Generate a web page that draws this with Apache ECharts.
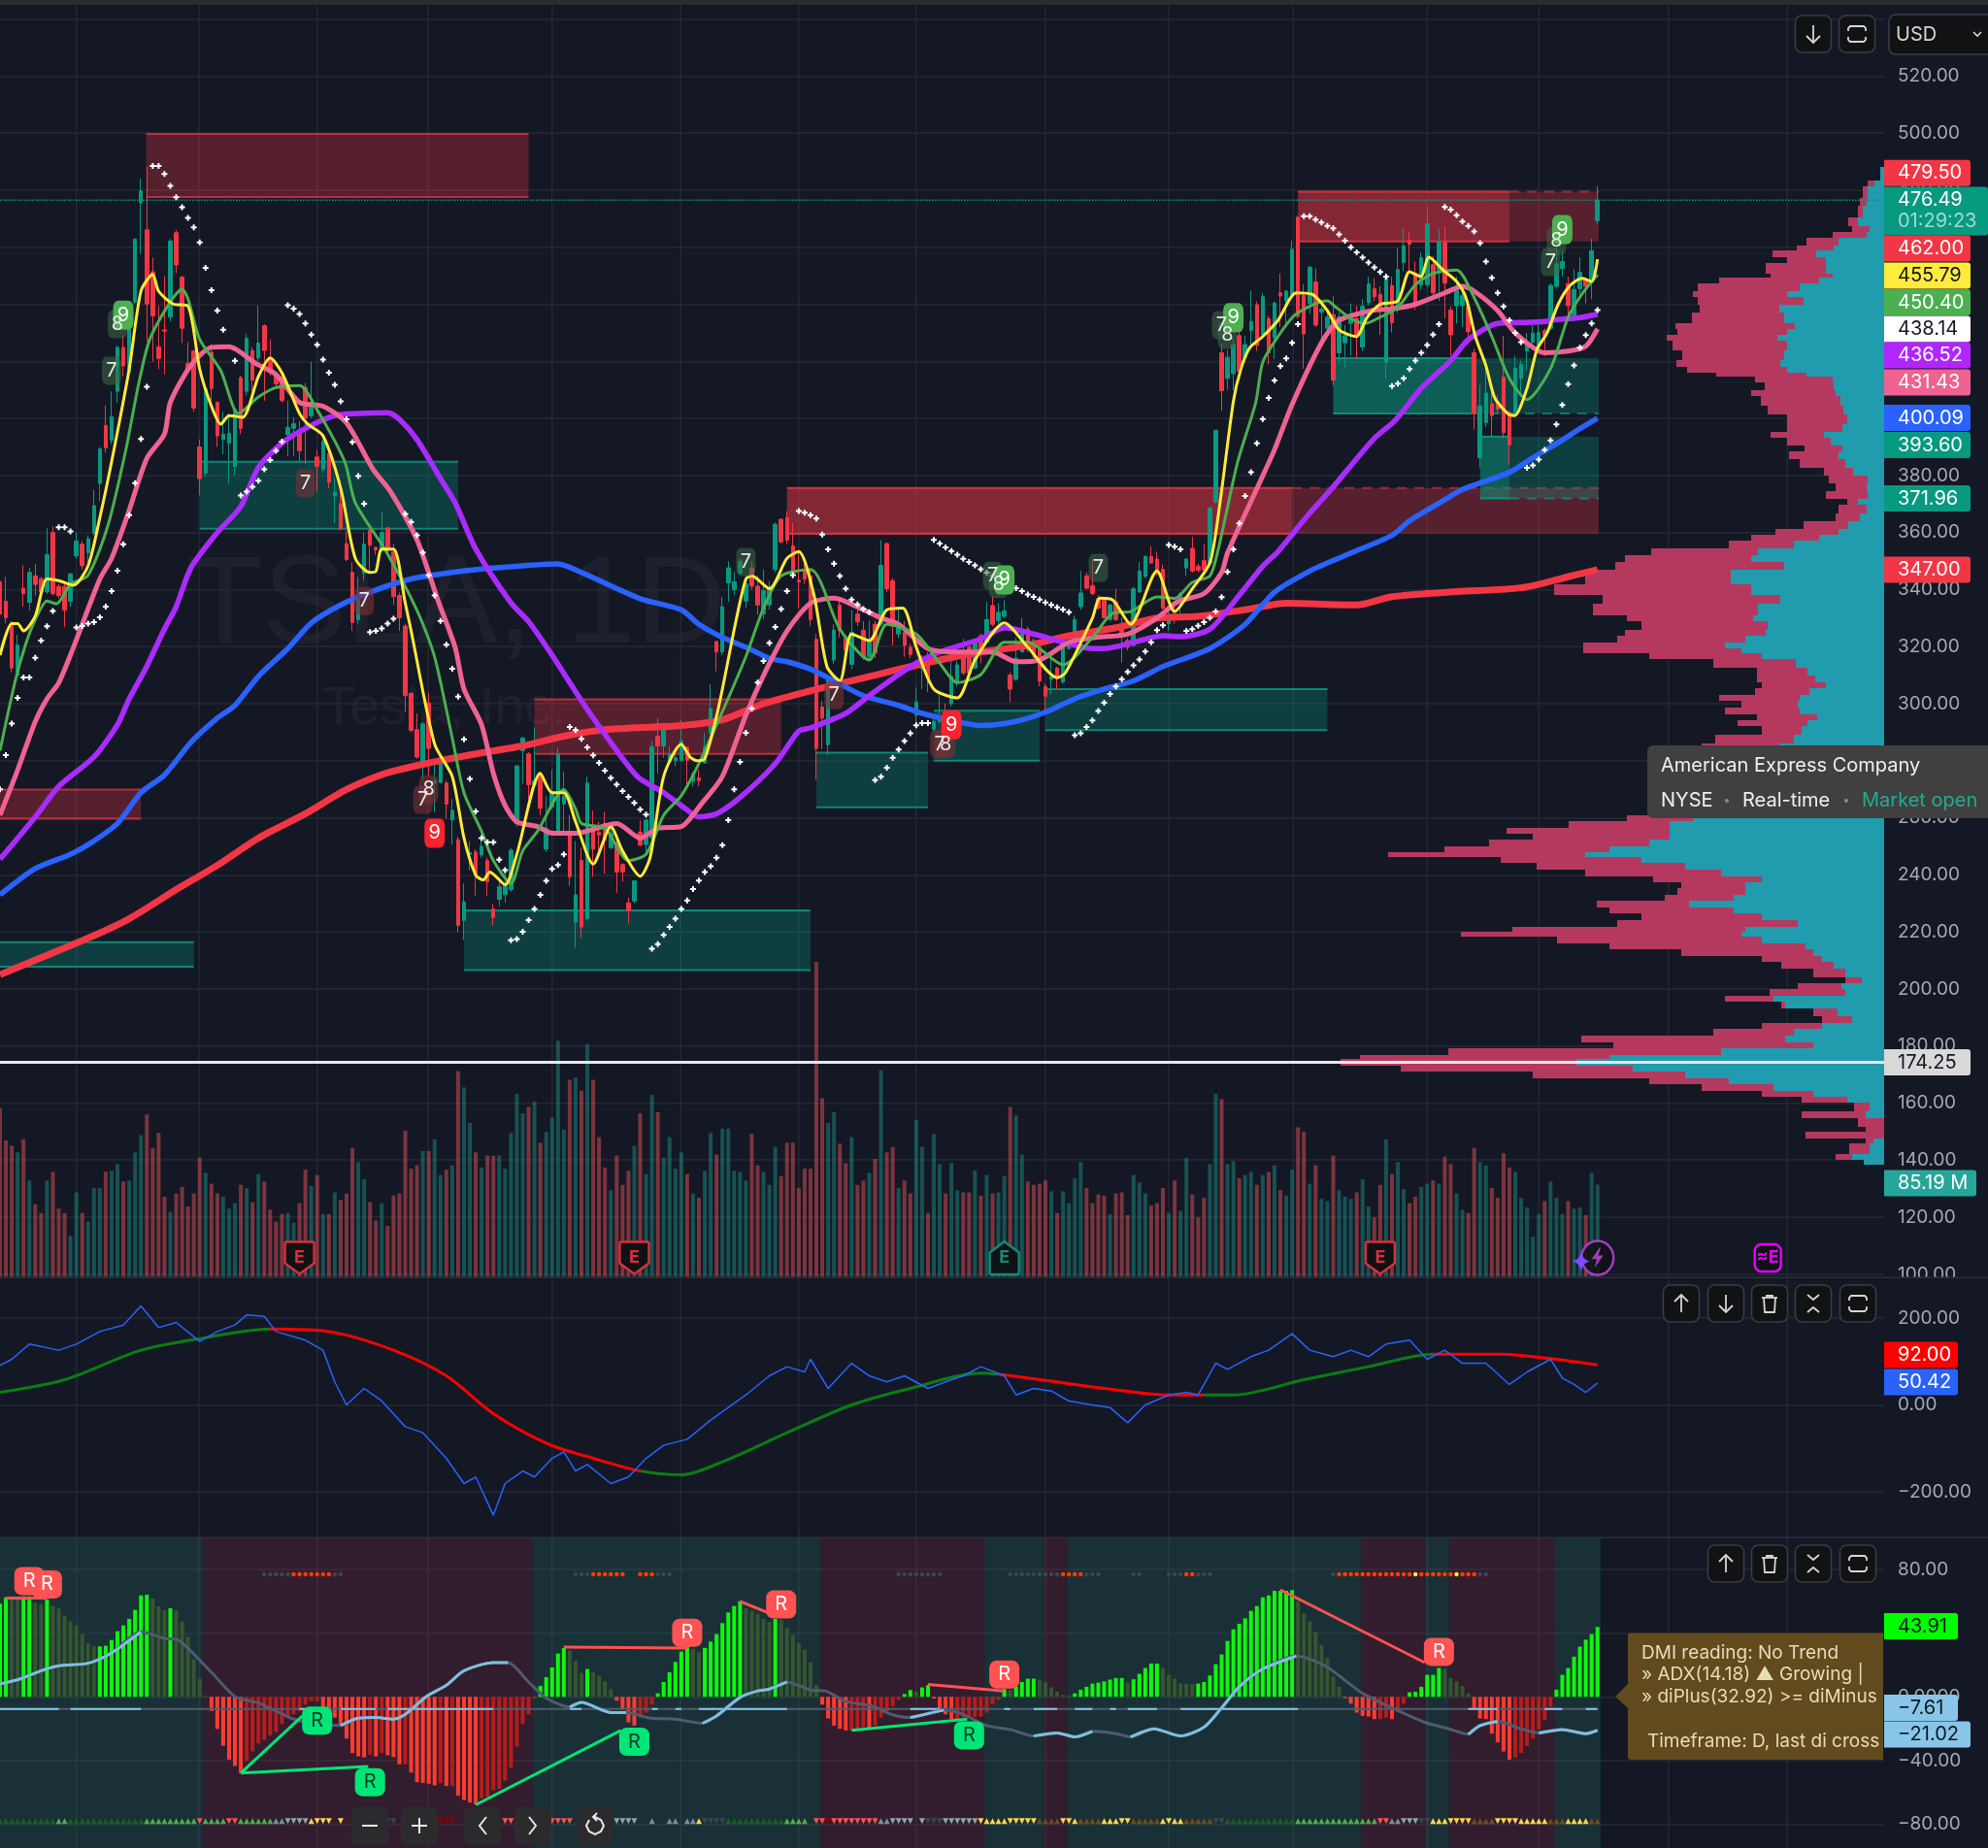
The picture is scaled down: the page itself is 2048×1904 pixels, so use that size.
<!DOCTYPE html>
<html>
<head>
<meta charset="utf-8">
<title>TSLA, 1D</title>
<style>
  html, body { margin: 0; padding: 0; background: #141824; }
  #chart { width: 2048px; height: 1904px; }
</style>
<script src="https://cdn.jsdelivr.net/npm/echarts@6/dist/echarts.min.js"></script>
</head>
<body>
<div id="chart"></div>
<script>
// candles, one row per day: open, close, low, high
var candles = [
[342.8,331.4,329,344],[335.9,330.1,328.1,344.4],[328.1,312.5,311,329],[309.9,320.6,309.3,324.2],[340.5,338.5,334,348.6],[335.5,346,332.7,347.7],[344.8,341.8,337.9,349],[343.8,339.2,338,344.5],[339.2,352.2,338.5,361.6],[360,338.5,338,362],
[341.1,337.9,337,342],[341.1,332.7,326.8,343],[335.9,345.4,334,346],[351.8,357,350.9,360],[355.9,348.3,347,357],[352.9,357.8,349,359],[359.8,369.4,359,375],[377.2,389.3,371,390],[397.5,389.7,388,404.5],[392.3,400.6,391,409.5],
[409.5,424.9,405.6,425.5],[424.9,418.4,414.7,429],[416,436.2,415,437],[440.8,462.9,440,463],[475.6,479.8,457.7,484],[466.1,440.1,427,488.3],[451.4,435.9,419.9,456.4],[425.1,421,417.3,439.5],[431,430.6,415.4,449.9],[435.5,462.2,434,462.9],
[465.1,453.8,450.9,466],[449.5,431.6,426.4,450],[419.3,416.9,416,426.8],[423.6,403.6,402.3,424],[390,378.9,373,392.6],[380.9,410.4,379.6,411],[423.2,410.5,406.2,426.2],[405.6,393.9,390,406],[392.6,394.5,387.4,402.3],[391.3,394.8,377.2,401.7],
[383.2,403.2,380.2,404],[414.3,396.5,394.5,415],[409.5,428,408,429.7],[423.8,413.4,409.5,425],[421.2,426.4,420,439.5],[432.5,423.8,406.2,433],[421.2,416,415,427.7],[415.4,412.1,411,416],[414.5,406.2,405.6,415],[394.3,396.9,386.7,406.2],
[396.5,398.2,386.7,400.4],[395.2,388.7,384.8,399.1],[410.8,400.1,384.1,412.4],[401,405.6,400,419.9],[386.5,383.2,374.3,389],[382.2,391.9,380.9,392.6],[387.7,377.6,375.6,388.7],[372.8,374.1,363.3,379],[370.1,361.3,360.7,378.2],[356.1,350.5,350,360.7],
[346,328.5,325.5,349.6],[329.4,336.6,328,344.4],[345.7,355.9,343.1,360],[360.7,355.5,345.7,362],[354.8,353.9,352.2,355],[353.8,360,353,367.2],[361.6,353.8,353,362],[353.2,337.5,334.6,356.1],[337.9,330.1,325.5,339],[327.2,302.8,297,328],
[303.6,290.6,290,304],[290.9,281.3,280.7,296.6],[279,292.9,273.3,293.7],[300.3,284.3,274.5,303.9],[272,273,262,280.7],[272.4,279,272,282.4],[272.2,264.8,259.7,273],[259.2,262.6,250.6,266.5],[252.3,222.3,220,253.5],[224,230.5,217.2,237],
[247.2,247.8,241.6,251.8],[248,239.9,232.7,249],[247,250,246,253.5],[245,237.6,232.7,246],[228,225.1,222.3,229.7],[231.4,235.9,229,239],[233,236.5,230.2,242],[234.8,248.6,234,249.5],[258,278.2,256.9,278.4],[283.5,288,272,288.3],
[282.4,271.6,266.5,283],[271.6,273,271,291.7],[275.4,263.3,260.9,276],[249,256.3,248,267.7],[263.7,268.8,263,276.9],[254.6,282.4,254,284.7],[264.8,267.7,254,276.2],[255.2,239.3,236.1,260.9],[223.4,233,214.4,251.8],[245,221.7,217.8,249.5],
[224.6,272.2,224,274.5],[256.9,249,239.3,262.6],[255,254,248.4,258.6],[258,252,240.4,262],[249.5,254.6,249,258],[250.6,241,233.6,253.5],[243.6,241,237.6,244],[230.2,227.4,222.9,232],[230.8,237.9,230,238],[255,250.4,250,259.2],
[250.6,259.2,248,259.5],[252.9,284.9,249.5,287],[288.6,285.2,275.6,294.9],[285.2,291.7,281,293.2],[279.6,282.4,279,285],[280,281,278,284],[280,287,280,294.3],[284.7,280.2,271.6,285],[272.8,275.4,271,276],[274,273,271,276.8],
[279.2,284.7,279,289.8],[289.8,298.3,289,306.8],[321.8,318.1,311.3,322],[318.1,334,317,337.4],[342.3,347.6,335.7,349.9],[340,342.7,338,346],[345.7,349.9,345,351],[336,342,333.5,344.8],[347.6,341.2,340,350],[341.2,334.6,331.2,344.8],
[331.4,339.7,329.5,347],[334.6,340.8,332.9,343],[347,362.9,346,363.5],[364.6,356.7,356.1,365],[365.2,357.3,356,367.5],[355.3,345.7,343.7,363.5],[343.3,342.7,333.5,352.7],[346.5,343.7,342,349],[344.8,329.5,327.2,347],[322.5,284.3,273.3,324.4],
[298.9,294.9,284.1,301],[285.6,309.1,281.9,310],[315.3,325.8,314,327.8],[334.6,325.5,323.2,336],[322.9,318.7,317,324],[313.8,325,312,332.9],[331.4,328.7,327.2,332.9],[325.7,316.2,315.3,328.9],[316.4,322.1,315,329.1],[327.8,317.8,316,329],
[327.8,348.5,327,357.3],[356.1,340.3,339,356.5],[343.1,327.2,320.4,344],[324.4,326.6,323,332.9],[325,320.4,316.4,328.9],[319.8,317.2,316,321],[296,300.6,292.6,305.7],[312.2,315.9,305.1,317],[315,309,304,318],[291,293.8,290,296],
[293.8,295.5,293,304],[296,293.8,292,300],[300,309.6,299,315],[307.4,313.6,306,315],[318.1,310.8,310,322.7],[319.8,310.8,310,322.1],[312.5,321.5,312,322.7],[323.8,318.7,314.2,324.5],[321.5,329.5,321,335.7],[334.4,327.8,327,337.6],
[329.1,332,328,335.2],[330.6,332.5,330,336.3],[310,305.1,300.6,311],[308.5,315.9,308,323.2],[318.1,326.1,318,330.1],[326.1,321.5,318.1,327],[322.1,317,316,323],[319.8,307.9,306.2,320.5],[306,302.6,297.7,307],[308.5,309.6,303.4,316.4],
[312.5,309.6,305.1,313],[307.6,319.8,307,321],[319.3,322.1,319,323],[321.2,329.5,321,331],[334,338.8,332.9,346.5],[344.8,340.5,340,346],[341.4,338.6,338,350.5],[336.9,333.5,333,338],[336.3,330.1,330,337],[329.5,334.6,329,335],
[335.7,329.5,329,340.3],[326.6,324.4,314.4,330.1],[322.1,319.8,318.7,323],[320.4,340.3,320,341],[339.1,346.5,339,349.7],[344.6,351.6,344,352],[351.6,349.3,349,355.2],[350.7,345.7,345,353.3],[347.1,333.5,333,348.8],[328,329.1,325.5,333.5],
[331.4,331,328,336],[336,338.6,331.8,339],[347.6,350.7,344.8,351],[354.4,346.5,346,358.4],[348.2,346.8,346,349],[350.2,346.8,346,356.1],[349.3,368.6,349,369],[370.7,395.8,370,396],[423,409.7,402.6,425.9],[414,421.4,410,424],
[415.7,425.9,409.9,428],[429,416.5,414,432],[421.4,425.9,420,429],[430.8,434,425,444.8],[439.8,425.6,423.6,441],[429.3,442.7,428,444],[435,423,419,436],[428.2,440.4,420.8,441],[444,442.9,432,450.8],[441.2,444.6,432.7,445],
[443.5,459.3,443,462.2],[470.5,435.8,435,471],[443.1,429.6,417.4,447],[440.3,453,436.7,453.4],[447.8,432.7,432,452.5],[437.2,438.3,425.3,441.8],[431.6,435.5,429,437],[436.4,413.4,411.5,442.9],[423,435.5,419.7,437.2],[426.5,429,418,432.7],
[433.3,435,422,440.3],[435,428.7,421,439.5],[425,439.3,423.6,441.8],[440.6,447.2,439.5,449.7],[445.5,442.6,441,449.1],[443.5,438.4,429.3,446.3],[419.7,449.1,414,450.3],[446.6,433.5,430.1,449.7],[438.9,452.2,437,459.9],[454.6,460.5,451.6,466.7],
[462.5,461,451.4,465.4],[450.8,439.5,438,455],[446.7,456.3,445,458.2],[446.9,468.2,446,474.1],[453.9,444,443,457],[452,461.8,441.2,466.4],[461.6,447.4,435,467.3],[438,429.3,421.9,439.3],[439.5,445,433.3,449.7],[439.5,443,432,445],
[438.9,430.4,425.9,440],[423,401.7,396.1,424.4],[386.2,404.3,382.8,411.7],[398.5,408.9,397,420.8],[405.1,401,393.8,411.7],[406,403.2,402,408],[414.5,395,393,429],[402.1,390.7,383.6,402.7],[402.1,417.6,401,421.9],[414,419,407.8,420.2],
[423.6,426.7,416.8,429.9],[426.7,429.9,425,432.7],[425.1,430.1,424,433.3],[430.7,429,421.9,431.5],[431.6,446.6,431,447.4],[446.3,454.2,445.4,460.5],[452.5,455,449.7,458.8],[447.2,439.5,435.5,449.7],[436.1,445.2,434,452.3],[445.5,451.2,442.3,456.5],
[448.6,446.3,440.3,449.2],[447.8,458.8,441.8,463],[469.3,476.4,467.9,481.5]
];

// volume in millions, per day
var volumes = [
156,126,121,115,127,89,67,59,89,97,
63,59,38,78,59,51,82,82,97,98,
104,88,89,115,131,150,119,133,74,60,
77,83,65,77,110,96,86,77,74,63,
68,85,82,69,95,88,62,51,58,59,
50,68,99,84,94,58,58,78,71,77,
119,106,90,69,52,68,47,75,77,135,
100,103,116,116,127,94,99,103,190,175,
142,115,101,112,112,112,100,133,169,151,
157,162,124,134,147,218,136,182,184,172,
215,182,129,101,80,112,85,98,121,151,
95,168,152,110,129,100,115,95,77,73,
98,133,113,137,137,98,97,89,132,103,
97,85,120,93,124,124,82,100,100,291,
165,142,152,123,105,129,85,89,96,109,
191,115,120,82,89,77,145,120,59,132,
104,77,105,80,78,78,98,75,94,77,
78,93,157,149,113,88,85,86,89,79,
59,79,68,91,106,82,68,76,75,58,
77,78,57,94,87,77,66,68,82,59,
89,61,110,76,55,73,104,169,164,104,
107,91,94,97,85,94,97,103,80,75,
99,138,134,86,103,72,70,112,80,74,
72,78,90,65,55,85,127,95,106,81,
68,74,83,86,89,86,111,104,77,62,
59,119,106,103,82,73,114,101,97,73,
64,37,58,70,88,73,58,70,63,64,
57,96,85.19
];

// parabolic SAR per day
var sar = [
270,282,293,302,309.2,309.2,316.1,322.1,327.1,332.5,
361.8,361.8,360.4,326.7,327.2,328.1,328.6,330.3,334,339.5,
346.6,355.9,366.1,377.3,392.8,411.1,488.5,488.5,485.7,481.5,
477.5,474,470.3,467,461.7,452.8,444.9,437.8,431.1,null,
420.2,373,374.3,376,378.2,382.2,385.4,388.6,391.9,439.7,
438.5,436.6,433.3,429.4,425.8,420.6,416,411.8,406,399.7,
391.7,379.8,370.1,325.1,325.5,326.4,328.1,329.8,null,366.5,
363.7,359,353,345,337.9,329,320.7,312.2,302.5,287.5,
273.6,262.2,252.9,251.4,251.4,245.3,241.6,217.1,217.5,220,
224.1,228,233,237.9,242.1,243.4,247.2,291.8,290.7,287.7,
284.7,281.9,279.2,276.5,274,271.7,269.4,267.3,265.2,262.9,
261.1,214.1,215.7,218.9,221.7,224.6,228,231,235,238,
241,243,246,250.4,259.2,270,279.6,289.8,298.3,307.4,
315,321.3,326.9,333.2,339.5,345.1,367.5,366.9,366.1,364.9,
359.3,354.1,349.1,344.7,340.3,336.5,334.8,333.2,332.1,273.2,
274.4,277.5,281,283.9,286.9,289.6,292.4,293.2,293.2,357.4,
356.1,354.8,353.5,352.2,350.8,349.7,348.5,347.1,345.9,344.8,
343.5,342.5,341.5,340.5,339.5,338.3,337.4,336.5,335.5,334.6,
333.8,333,332.1,288.9,289.6,291.8,294.1,297.4,300.3,303.4,
306,308.6,311.1,313.4,315.5,318.3,321.5,325.8,327.5,355.6,
355,354.1,325.5,326.1,327.3,328.6,330.1,332.3,337.3,346.2,
354.1,363.2,372.8,381.1,391.3,399.8,407.2,413.3,418.3,421,
426.5,433,470.9,470.9,469.7,468.7,467.5,466.6,464.5,462.3,
460,458.2,456.4,454.6,452.9,451.3,449.7,411.3,412.2,414.1,
417.3,420.3,423,425.7,429.4,433,474.1,473.2,471.2,469,
467.5,465.5,461.4,455,449.3,444,439.2,434.4,430,426.7,
382.7,383.5,385.6,389,392.3,397.9,404.7,412,418.6,424.8,
429.2,433.3,438
];

// moving averages as [day, price]
var sma200 = [[0,205],[15,217.8],[22,224.6],[30,234.8],[37,243.3],[44,252.9],[52,261.4],[59,269.9],[66,275.8],[74,279.6],[81,282.4],[89,285.2],[96,288.6],[103,290.9],[116,292.3],[123,294.3],[130,300],[138,304.5],[145,308],[153,312],[160,315.3],[167,318.1],[175,320.4],[182,323.8],[190,326.6],[197,330],[204,330.6],[212,332.9],[219,335.2],[231,334.6],[237,337.5],[248,339.3],[259,340.6],[268,345],[272,347]];
var sma100 = [[0,233],[6,242.2],[12,247.2],[15.5,251.2],[20,258],[24,268.8],[28,275],[32.5,286.4],[37,294.9],[40,299.4],[44,309.6],[49,319.3],[53,328.3],[58,334.6],[63,339.1],[70,343.7],[77,346],[85,347.7],[95,349],[99,346],[109,336.8],[116,332.9],[119,327.8],[123,323.2],[127,319.8],[131,315.9],[134,314.7],[138,312.1],[142,308],[147,302.8],[153,299.4],[157,296.6],[162,294.1],[167,292.3],[173,293.8],[178,297],[183,301.7],[188,305.1],[193,308],[198,313],[206,319.3],[212,327.8],[217,339.1],[223,346.5],[226,349.3],[230,352.8],[237,359],[240,364.1],[246,371.5],[249,375.1],[257,381.1],[261,386.2],[266,392.4],[269,396.4],[272,400.09]];
var sma50 = [[0,245.5],[6,260.3],[10,271],[16,281.3],[20,292.6],[22,301.7],[25,313.1],[28,326.2],[30,334],[32.5,347.6],[37,360],[41,369.1],[44,382.8],[48,391.3],[52,396.5],[57,401],[61,401.7],[66,402],[68,399.7],[71,392.6],[75,378.9],[77.5,370.4],[81,354.2],[87,335.3],[90,328.8],[94,317],[99,301],[103,289.2],[108.5,274.5],[113,268.8],[116,264.3],[119,260.3],[122,261.4],[126,267.1],[132,279],[136,290.4],[138,291.5],[144,296.6],[148,302.8],[153,310.2],[156,314.2],[160,318.1],[167,322.7],[171,326.6],[176,324.4],[182,321],[186,319.3],[188,319.3],[193,321.5],[198,323.8],[201,323.5],[206,326.1],[211,338],[215,348.2],[217.6,353.3],[222.6,365.8],[226.5,374.8],[230,383.4],[234,393],[237.5,399.2],[242,410.6],[247,420.2],[250,427.6],[255,433.3],[259,433.6],[263,434],[265,434.6],[269,435.3],[272,436.52]];
var ema20 = [[0,260.9],[3,276.7],[6,293.7],[8,301.7],[10,307.3],[12.5,319.7],[17,343.7],[19,350.9],[22,367.8],[25,386],[28,394.5],[29,405.6],[32.5,418.6],[36,424.9],[39,425.1],[43.5,419.3],[47,415.4],[51,405.6],[55,404.3],[59,398.4],[63.5,382.2],[66.5,374.3],[71,357.4],[74.5,336.6],[77.5,319.7],[79,305.1],[82,292.6],[84,275.6],[86,264.3],[88,258.6],[91.5,256.9],[94,254.6],[98,254.6],[105,258],[109,252.9],[112,256.3],[116,256.9],[119.4,264.8],[123,274.5],[127,296],[130.5,312],[134,325.5],[138,335.2],[142,337],[147,332.9],[150,330],[153,327.8],[158,319.3],[163,318.1],[169,318.1],[173,314.7],[177,315.3],[182,321.5],[186.5,323.2],[192,324.4],[197,330],[200.5,335.7],[205,338.6],[208,346],[209,352.8],[214,375.4],[217,389],[220,404.9],[225,426.5],[228,434.4],[233.6,437.8],[237,438.4],[241,440],[246,444],[249,446.3],[251,444.6],[255,437.8],[258,429.9],[263,423],[267,423.6],[270,425.3],[272,431.43]];
var ema10 = [[0,283.5],[2.6,308],[4.4,321],[6,329.4],[8,336],[9.6,335],[12,341.8],[15,345],[18.4,362.6],[21.4,388.7],[23.6,412],[25.5,427.7],[29,440.8],[31,445.3],[32,442],[34,427.7],[37.6,416.7],[40.6,401.7],[44,407.5],[47,410.8],[51,411.5],[54,403],[58.7,384.8],[60.5,370.4],[65.7,353.5],[71,332.7],[74,316.4],[77,288],[79,268.8],[82,255.2],[84,245],[87,237],[89,248.4],[91.5,255.2],[96,269.9],[98,263.1],[99,258],[103,256.3],[107,245],[110,247.2],[113,260.9],[116,267.7],[119,279],[123,297.2],[127,316.5],[130,333.5],[133,344.8],[138,347],[143,326.1],[148,315.3],[151,327.8],[156,324.4],[160,314.2],[163,307.4],[167,310.2],[171,321.5],[175,321.5],[181,313.6],[186,323.2],[189.5,331.8],[192.5,332.3],[197,337.4],[200,336.9],[203,342.5],[206,344.8],[207.4,353.9],[210.7,384.5],[213.8,405.5],[215,419.7],[217.6,428.7],[220.4,436.1],[223.7,440],[226,441.2],[227.5,438.9],[230,435],[232.5,433.3],[235,435.5],[238,438.9],[241,446.9],[244,450.8],[248,452],[251,442.3],[254,428.7],[257,414],[260,406.6],[264,417.4],[267,435.5],[269.5,444],[272,450.4]];
var ema5 = [[0,317],[2,328.1],[3,328.1],[4,325.5],[6,330.7],[8,343.7],[10,343.1],[12.5,341.5],[15,348.3],[17,365.2],[19,384.8],[22,417.3],[24,444.6],[26,450.5],[27,444.6],[29.5,440.1],[32,439.4],[34,417.3],[36,404.3],[37.6,398],[39,401],[41.3,400.4],[44,414.7],[46,421.2],[48,416],[51,401.7],[52.4,398],[55,393.9],[58,375.6],[60.5,350.9],[63,346],[64,346.4],[65,354.2],[67,354.2],[69,335.3],[70,325.5],[74,285.8],[77,274.5],[79,252.9],[81,239.9],[82.3,238.2],[83.4,241],[86,236.5],[88,247.2],[92,275.6],[94,268.8],[96,268.8],[98,258.6],[101,243.8],[104,256.9],[106,248.4],[109,239.5],[110.7,246.1],[113,274.5],[116,285.8],[117.5,281.3],[118.7,280],[120,280.7],[122.3,298.3],[125.3,328.9],[127,343.7],[128,344.8],[131,340.3],[134,351],[136,353.3],[138.6,338],[140.8,313],[143,308],[145,324.4],[148,322.1],[151,332.9],[153.7,333.5],[156,319.8],[159,305.1],[163,302],[166,315.3],[171,328.3],[175,319.8],[180,309.1],[181.4,310.8],[186,330],[187.3,337],[189.5,336.3],[192.5,327.8],[197,346.5],[200,332.3],[203,340.3],[206,349.3],[207.6,368.6],[210,406],[211.3,417.4],[212.8,424.8],[215,428.7],[217.6,434.4],[220.7,444],[223.4,443.5],[226,437.8],[228,431],[230.9,428.7],[232.8,435.5],[235,440],[238,441.2],[240,451.4],[241.9,449.7],[243.3,456.5],[245.7,452],[248,448],[249.6,442.3],[251.2,428.7],[253,418.5],[254.5,407.2],[256.8,401.5],[257.9,401],[260,410.6],[261.7,424.2],[263.4,429.9],[265.3,440],[267.2,446.3],[269.4,449.1],[271,448],[272,455.79]];

var lastPrice = 476.49;
var hLevel = 174.25;

// supply and demand zones as [fromDay, toDay, topPrice, bottomPrice]
var redZones = [[24.9,90,499.7,477.6],[0,24,269.9,259.7],[91,133,301.5,282.4]];
var redZonesActive = [[134,220,375.6,359.5],[221,257,479.5,462]];
var redZonesExtended = [[220,272.2,375.6,359.5],[257,272.2,479.5,462]];
var tealZones = [[34,78,384.8,361.3],[0,33,216.4,207.8],[79,138,227.5,206.6],[139,158,282.8,263.7],[159,177,297.5,280],[178,226,305.1,290.7]];
var tealZonesActive = [[227,250.7,421.1,401.7],[252,257,393.6,371.96]];
var tealZonesExtended = [[250.7,272.2,421.1,401.7],[257,272.2,393.6,371.96]];

// volume profile rows: top price of the row, total volume, up volume
var profilePrices = [488.3,483.5,481.4,477.2,474.4,470.3,467.5,465.4,463.3,460.6,458.9,456.4,454.3,450.8,449.4,447.4,444.6,442.5,439.7,437,433.5,431.4,429.3,427.2,423.8,420.3,418.2,416.1,414.7,412.6,409.9,407.8,404.3,401.5,398.1,395.3,393.2,390.4,388.4,385.6,382.8,380,377.2,374.5,371.7,369.6,366.8,364,361.3,359.2,357.1,354.3,352.2,349.5,347,341.9,338,335,331,329,325.9,323.7,321.5,319.3,317.8,315.6,312.7,309.7,307.5,305.3,303.1,300.9,298.6,296.4,294.2,292,289,286.1,284,275,265,261,258.8,256.6,254.4,252.2,250,248,246.3,244.1,241.8,239.6,237.4,235.2,233,230.8,228.6,226.4,224.1,221.9,220,218.2,216,213.8,211.6,209.4,207.2,204.2,202,199.8,197.6,195.4,193.2,190.5,188,186,183.6,181.4,179.1,176.9,175.4,173.2,171,168.8,166.6,164.4,162.2,160,157,154.8,151.8,150,147.7,145.9,142.2,140,138.5];
var profileTotal = [4,17,22,25,27,37,33,53,80,90,115,100,122,117,170,192,197,192,190,198,215,213,224,218,208,214,203,173,133,123,137,127,120,100,100,117,100,82,98,87,62,57,50,60,38,47,50,83,112,137,160,240,267,277,308,340,290,300,265,250,267,275,310,310,242,176,131,131,126,133,170,147,164,131,151,126,174,188,190,200,210,265,325,389,362,407,453,511,395,358,308,238,209,213,226,296,283,250,275,383,436,337,283,209,126,106,73,40,89,118,164,106,73,64,126,176,312,279,449,540,560,498,362,242,188,126,85,31,85,27,19,81,19,36,50,21,0];
var profileUp = [4,10,17,18,22,27,15,18,47,52,70,60,60,53,67,87,100,83,108,103,92,100,110,100,103,107,100,80,53,52,50,45,42,38,43,62,55,43,47,40,32,17,18,17,27,18,25,37,47,67,93,130,137,103,158,137,107,130,135,120,122,143,164,147,126,91,79,71,60,77,87,89,87,69,79,85,93,108,110,115,120,197,221,221,221,242,283,308,250,205,168,126,143,143,155,201,155,126,89,143,147,126,81,73,64,52,40,23,44,40,114,102,48,33,64,93,102,73,168,283,317,259,205,160,114,73,38,15,19,0,0,0,11,15,33,21,0];

// CCI as [day, value]
var cciLine = [[0,91],[2,105],[5,140],[10,126],[13,140],[17,169],[21,184],[24,228],[27,178],[30,190],[34,146],[37,169],[40,184],[42,207],[45,204],[47,169],[52,149],[55,126],[57,53],[59,0],[62,38],[65,9],[69,-50],[72,-64],[76,-123],[79,-181],[81,-166],[84,-254],[86,-181],[89,-152],[91,-166],[94,-123],[96,-108],[98,-152],[100,-137],[104,-181],[107,-166],[110,-123],[113,-93],[117,-79],[121,-35],[124,-6],[127,23],[131,67],[134,88],[137,76],[138,105],[141,38],[145,96],[148,67],[151,53],[154,67],[158,38],[161,53],[164,67],[167,88],[171,67],[173,23],[176,38],[179,32],[182,9],[186,0],[189,-6],[192,-41],[195,0],[199,23],[202,29],[204,23],[207,96],[209,82],[213,111],[216,126],[220,164],[223,126],[227,111],[230,126],[233,111],[236,140],[240,149],[243,105],[246,126],[249,96],[253,96],[257,47],[260,76],[264,105],[266,62],[268,47],[270,29],[272,50.42]];
var cciAverage = [[0,29],[11,58],[24,126],[35,155],[46,175],[56,169],[67,126],[76,67],[84,-20],[93,-88],[101,-123],[109,-152],[116,-161],[123,-131],[134,-64],[145,0],[155,38],[167,73],[177,58],[188,38],[199,23],[210,23],[222,58],[233,88],[244,117],[255,117],[272,92]];
// days where the average line changes from green to red and back
var cciColorBreaks = [46,109,170,205,244];

// squeeze momentum per day
var momentum = [
58.5,62.5,61.5,61.1,63.1,63.1,59.1,58.1,61.1,57,
55.6,51,47.3,44.9,39.4,33.7,31.7,31.7,32.1,35.7,
41.2,44.9,48.9,54.6,63.7,64.1,61.7,57,54.4,55.6,
54.4,47.3,37.8,23.5,11.4,0.8,-8.9,-20.1,-30.7,-39.4,
-43.4,-47.9,-40.4,-34.3,-29.2,-27.2,-24.2,-22.1,-17.1,-12,
-11,-8.9,-4.9,-2.8,-2.8,-6.9,-7.9,-13,-18.1,-26.2,
-35.3,-37.4,-38,-36.3,-37.4,-35.3,-36.7,-37.8,-42.4,-42.4,
-47.5,-53.6,-54,-54.6,-55.6,-54.2,-56,-56,-62.1,-64.8,
-66.4,-67.4,-63.7,-62.7,-58.7,-57.7,-52.6,-44.5,-31.3,-17.1,
-11,-0.8,6.9,12.4,18.5,27.2,30.7,29,22.5,15,
17.5,15.4,13.4,9.7,4.9,-2.4,-7.9,-16,-18.1,-13,
-9.9,-4.9,2.2,9.3,15.4,21.9,28.4,31.7,30,28,
30.7,34.7,39.4,46.3,53,57,60.1,55.6,54,52,
48.9,46.9,48.9,48.3,43.4,38.8,33.7,29.6,21.5,7.3,
-4.9,-13.6,-18.1,-20.1,-21.1,-21.1,-20.1,-19.1,-19.5,-18.1,
-13,-8.9,-5.9,-1.8,1.8,4.3,3.2,5.9,7.3,-1,
-7.9,-11,-14,-14,-13,-13,-12.6,-12.4,-9.9,-4.5,
-1.8,4.9,4.3,6.3,9.3,11.4,11.4,10.8,8.9,5.9,
3.2,1.2,0.8,2.2,4.5,6.3,8.3,8.9,9.7,10.8,
11.8,11.8,8.9,11,14.4,18.1,20.9,20.9,18.1,13.8,
11.4,8.5,8.3,7.9,8.3,9.3,13.4,20.5,26.6,35.1,
42.4,45.9,49.3,54,57,62.5,63.7,66.6,66.6,66.6,
67,60.1,52.6,47.3,40.8,32.7,24.6,12.8,6.3,-0.8,
-4.3,-9.9,-12,-12.4,-14,-14,-13,-14,-7.9,-4.3,
2.8,3.2,6.3,13.8,13.8,18.1,17.5,11.8,9.7,6.9,
2.2,-7.9,-13.6,-14,-23.1,-28.6,-34.3,-39.4,-38,-35.3,
-30.9,-26.2,-20.5,-14.6,-6.3,4.5,13.8,18.1,25.2,31.5,
35.9,39.4,43.91
];

// trend strength line as [day, value]
var adxLine = [[0,8],[3.6,11.4],[7,16.4],[10,19.5],[15,21.1],[19,27.6],[24,40.8],[28,36.7],[30.5,35.3],[36,15.4],[40,0.2],[44,-3.9],[50,-14],[54,-17],[58,-18],[61,-13.4],[64,-13],[67,-14],[69,-11],[72.6,0.2],[76,7.3],[79,16.4],[84,21.5],[86.5,21.5],[90,9.3],[93,-0.8],[97,-6.5],[99,-3.5],[104,-9.9],[106.6,-9.9],[110.7,-13.4],[115,-14],[119.6,-16.6],[122,-12],[126,-0.4],[129,3.7],[131,4.9],[134,9.3],[138,4.3],[140.5,3.7],[144,-2.8],[148.6,-5.9],[151.7,-11],[155,-13],[157,-11.4],[160.7,-8.3],[164,-11],[168,-18.1],[172,-20.5],[176,-24.6],[180,-22.7],[183,-25.2],[186,-21.7],[190,-23.1],[192.5,-25.2],[196.5,-20.1],[201,-24.6],[205,-19.1],[208,-6.9],[211,6.3],[215,17.5],[220.7,25.6],[225.6,19.5],[232,2.2],[237,-6.9],[242.6,-16],[246.7,-20.1],[250,-23.5],[252,-18.1],[255,-15.4],[259,-20.1],[262,-22.7],[266,-20.5],[270,-23.1],[272,-21.02]];
var keyLevel = -7.61;
var keyLevelRising = [[0,10],[12,24],[51,54],[58,64],[66,84],[97,99],[111,112],[115,116],[119,134],[155,160],[171,172],[176,180],[183,186],[189,190],[192,197],[201,221],[250,255],[263,266],[270,272]];

// momentum background: day ranges
var bullBands = [[-0.5,34.5],[90.7,139.7],[167.6,177.7],[181.7,231.7],[242.7,246.7],[264.7,272.5]];
var bearBands = [[34.5,90.7],[139.7,167.6],[177.7,181.7],[231.7,242.7],[246.7,264.7]];

// squeeze dots along the top, by day ranges
var dotLevel = 76.9;
var dotsDark = [[45,49],[57,58],[98,100],[112,114],[153,160],[172,180],[185,187],[193,194],[199,201],[204,206],[227,227],[252,253]];
var dotsOrange = [[50,56],[101,106],[109,111],[181,184],[202,203],[228,240],[242,247],[249,251]];
var dotsYellow = [[241,241],[248,248]];

// trend triangles along the bottom, by day ranges
var triLevel = -78;
var triDarkGreenUp = [[0,9],[12,24],[124,133],[209,220]];
var triGreenUp = [[10,11],[25,33],[35,38],[41,46],[134,137],[221,234]];
var triRedDown = [[34,34],[39,40],[86,87],[94,97],[139,140],[142,149],[235,236]];
var triDarkRedDown = [[75,77],[141,141]];
var triGreyUp = [[47,48],[111,111],[114,115],[117,118],[150,151],[237,238]];
var triGreyDown = [[49,52],[105,108],[152,155],[157,157],[161,166],[239,241]];
var triDarkGrey = [[66,67],[120,123],[158,160],[207,208],[242,243]];
var triYellowUp = [[53,53],[119,119],[168,171],[183,183],[188,190],[198,198],[200,201],[244,246],[259,263],[267,270]];
var triYellowDown = [[54,56],[58,58],[167,167],[172,176],[181,182],[191,192],[199,199],[247,250],[255,258]];
var triBrownUp = [[177,180],[184,187],[193,197],[202,206],[251,254],[264,266],[271,272]];

// divergence lines and their R tags
var bearLines = [[[1,62],[8,62]],[[96,31.3],[117,30.7]],[[126,60],[132,51]],[[158,7.7],[171,3.7]],[[218,67.2],[242.6,21.5]]];
var bullLines = [[[41,-47.9],[51.5,-12]],[[41,-47.9],[62.7,-43.8]],[[81,-67.8],[105.7,-21.1]],[[145,-21.1],[164.7,-14]]];
var bearTags = [[5,72.7],[8,70.6],[117,40.2],[133,58],[171,14],[245,28.2]];
var bullTags = [[54,-15],[63,-53.6],[108,-28.2],[165,-24.2]];

// TD sequential counts as [day, price]
var td7Up = [[19,416.7],[127,349.7],[169,344.8],[187,347.6],[208,432.7],[264,454.8]];
var td8Up = [[20,433],[170,342],[209,429.3],[265,462.2]];
var td9Up = [[21,436.2],[171,343.4],[210,435.3],[266,466.2]];
var td7Down = [[52,377.2],[62,336],[72,266.3],[142,303],[160,285.8]];
var td8Down = [[73,270],[161,285.8]];
var td9Down = [[74,254.6],[162,292.6]];

// event icons along the bottom of the price pane
var iconLevel = 105.7;
var earningsMiss = [51,108,235];
var earningsBeat = [171];
var earningsNext = [301];
var lastDay = 272;
var timeTicks = [13,33.9,54,72.9,94,115.9,136,156,178,199,220.2,243,262,284.1,304.3];

var xMax = 320.8;
var up = '#089981', down = '#f23645';
var labelFont = 'Inter, "Liberation Sans", sans-serif';
var gridColor = '#242833';

function lineSeries(data, color, width, z) {
    return {
        type: 'line', data: data, xAxisIndex: 0, yAxisIndex: 0, symbol: 'none', smooth: 0.25,
        lineStyle: { color: color, width: width }, z: z, silent: true
    };
}

// edges says which of the long sides carry a border
function zoneSeries(data, fill, stroke, dashed, edges) {
    edges = edges || 'both';
    return {
        type: 'custom', data: data, xAxisIndex: 0, yAxisIndex: 0, z: 1, silent: true,
        encode: { x: [0, 1], y: [2, 3] },
        renderItem: function (params, api) {
            var a = api.coord([api.value(0), api.value(2)]);
            var b = api.coord([api.value(1), api.value(3)]);
            var border = { stroke: stroke, lineWidth: 2, lineDash: dashed ? [10, 8] : null };
            var children = [
                { type: 'rect', shape: { x: a[0], y: a[1], width: b[0] - a[0], height: b[1] - a[1] }, style: { fill: fill } }
            ];
            if (edges !== 'bottom') children.push({ type: 'line', shape: { x1: a[0], y1: a[1], x2: b[0], y2: a[1] }, style: border });
            if (edges !== 'top') children.push({ type: 'line', shape: { x1: a[0], y1: b[1], x2: b[0], y2: b[1] }, style: border });
            return { type: 'group', children: children };
        }
    };
}

function bandSeries(data, fill) {
    return {
        type: 'custom', data: data, xAxisIndex: 4, yAxisIndex: 3, z: 0, silent: true,
        encode: { x: [0, 1] },
        renderItem: function (params, api) {
            var a = api.coord([api.value(0), 100]);
            var b = api.coord([api.value(1), -95]);
            return { type: 'rect', shape: { x: a[0], y: a[1], width: b[0] - a[0], height: b[1] - a[1] }, style: { fill: fill } };
        }
    };
}

function expand(runs, level) {
    var out = [];
    runs.forEach(function (r) {
        for (var i = r[0]; i <= r[1]; i++) out.push([i, level]);
    });
    return out;
}

function joinSegments(segs) {
    var out = [];
    segs.forEach(function (s) {
        s.forEach(function (p) { out.push(p); });
        out.push([s[s.length - 1][0], null]);
    });
    return out;
}

function triSeries(runs, color, pointDown) {
    return {
        type: 'scatter', data: expand(runs, triLevel), xAxisIndex: 4, yAxisIndex: 3, symbol: 'triangle',
        symbolSize: 6, symbolRotate: pointDown ? 180 : 0, itemStyle: { color: color, opacity: 1 }, z: 3, silent: true
    };
}

function dotSeries(runs, color) {
    return {
        type: 'scatter', data: expand(runs, dotLevel), xAxisIndex: 4, yAxisIndex: 3, symbol: 'circle',
        symbolSize: 4.5, itemStyle: { color: color, opacity: 1 }, z: 3, silent: true
    };
}

function tagSeries(data, text, bg, xAxisIndex, yAxisIndex, size, textColor, z) {
    return {
        type: 'scatter', data: data, xAxisIndex: xAxisIndex, yAxisIndex: yAxisIndex, symbol: 'roundRect',
        symbolSize: size, itemStyle: { color: bg, opacity: 1 }, z: z, silent: true,
        label: { show: true, position: 'inside', formatter: text, color: textColor, fontSize: 20, fontFamily: labelFont }
    };
}

function iconSeries(days, path, size, fill, stroke, text, keepLevel) {
    return {
        type: 'scatter', data: days.map(function (d) { return [d, keepLevel === undefined ? iconLevel : keepLevel]; }),
        xAxisIndex: 0, yAxisIndex: 0, symbol: path, symbolSize: size,
        itemStyle: { color: fill, opacity: 1, borderColor: stroke, borderWidth: stroke === 'none' ? 0 : 2.5 }, z: 7, silent: true,
        label: { show: !!text, position: 'inside', formatter: text || '', color: stroke, fontSize: 18, fontWeight: 'bold', fontFamily: labelFont }
    };
}

// rising parts of the strength line are drawn blue over the grey line
var adxRising = adxLine.map(function (p, i) {
    var before = i > 0 && adxLine[i - 1][1] <= p[1];
    var after = i < adxLine.length - 1 && adxLine[i + 1][1] >= p[1];
    return [p[0], (before || after) ? p[1] : null];
});

var series = [];

// vertical time grid through all panes
series.push({
    type: 'custom', data: timeTicks.map(function (t) { return [t, 300]; }), xAxisIndex: 0, yAxisIndex: 0, z: 0, silent: true,
    renderItem: function (params, api) {
        var x = api.coord([api.value(0), 300])[0];
        return { type: 'line', shape: { x1: x, y1: 5, x2: x, y2: 1904 }, style: { stroke: gridColor, lineWidth: 1.5 } };
    }
});

// volume profile, rows snapped to whole pixels so no seams show between them
series.push({
    type: 'custom', xAxisIndex: 1, yAxisIndex: 0, z: 1, silent: true,
    data: profilePrices.slice(0, -1).map(function (p, i) { return [p, profilePrices[i + 1], profileTotal[i], profileUp[i]]; }),
    encode: { x: 2, y: 0 },
    renderItem: function (params, api) {
        var base = api.coord([0, api.value(0)]);
        var y0 = Math.round(base[1]);
        var y1 = Math.round(api.coord([0, api.value(1)])[1]);
        var total = api.coord([api.value(2), api.value(0)]);
        var upv = api.coord([api.value(3), api.value(0)]);
        return {
            type: 'group',
            children: [
                { type: 'rect', shape: { x: total[0], y: y0, width: base[0] - total[0], height: y1 - y0 }, style: { fill: '#b5395f' } },
                { type: 'rect', shape: { x: upv[0], y: y0, width: base[0] - upv[0], height: y1 - y0 }, style: { fill: '#219bae' } }
            ]
        };
    }
});

series.push(zoneSeries(redZones, 'rgba(242,54,69,0.3)', 'rgba(242,54,69,0.7)', false));
series.push(zoneSeries(tealZones, 'rgba(8,153,129,0.3)', 'rgba(8,153,129,0.85)', false));
series.push(zoneSeries(redZonesExtended, 'rgba(242,54,69,0.3)', 'rgba(242,54,69,0.55)', true, 'top'));
series.push(zoneSeries(tealZonesExtended, 'rgba(8,153,129,0.3)', 'rgba(8,153,129,0.7)', true, 'bottom'));
series.push(zoneSeries(redZonesActive, 'rgba(242,54,69,0.5)', 'rgba(242,54,69,0.8)', false));
series.push(zoneSeries(tealZonesActive, 'rgba(8,153,129,0.55)', 'rgba(8,153,129,0.9)', false));

// volume
series.push({
    type: 'bar', xAxisIndex: 2, yAxisIndex: 1, barWidth: 4, z: 2, silent: true,
    data: volumes.map(function (v, i) {
        return { value: [i, v], itemStyle: { color: candles[i][1] >= candles[i][0] ? 'rgba(25,140,130,0.5)' : 'rgba(225,80,85,0.5)' } };
    })
});

// price candles
series.push({
    type: 'candlestick', xAxisIndex: 0, yAxisIndex: 0, barWidth: 4, z: 3, silent: true,
    data: candles.map(function (c, i) { return [i, c[0], c[1], c[2], c[3]]; }),
    itemStyle: { color: up, color0: down, borderColor: up, borderColor0: down, borderWidth: 1 }
});

series.push(lineSeries(sma200, '#f23645', 7, 4));
series.push(lineSeries(sma100, '#2962ff', 5.5, 4));
series.push(lineSeries(sma50, '#aa2bff', 5.5, 4));
series.push(lineSeries(ema20, '#f06292', 5, 4));
series.push(lineSeries(ema10, '#4caf50', 3, 4));
series.push(lineSeries(ema5, '#ffeb3b', 3, 4));

// parabolic SAR
series.push({
    type: 'scatter', xAxisIndex: 0, yAxisIndex: 0, z: 5, silent: true,
    symbol: 'path://M2,0H4V2H6V4H4V6H2V4H0V2H2Z', symbolSize: 6, itemStyle: { color: '#ffffff', opacity: 1 },
    data: sar.map(function (v, i) { return v === null ? null : [i, v]; }).filter(function (p) { return p; })
});

// current price and horizontal level
series.push({
    type: 'line', xAxisIndex: 0, yAxisIndex: 0, data: [[0, lastPrice], [xMax, lastPrice]], symbol: 'none', z: 5, silent: true,
    lineStyle: { color: up, width: 1.5, type: 'dotted' }
});
series.push({
    type: 'line', xAxisIndex: 0, yAxisIndex: 0, data: [[0, hLevel], [xMax, hLevel]], symbol: 'none', z: 6, silent: true,
    lineStyle: { color: '#e8e8e8', width: 3 }
});

// TD counts
series.push(tagSeries(td7Up, '7', 'rgba(60,105,70,0.55)', 0, 0, [20, 29], '#e8e8e8', 6));
series.push(tagSeries(td8Up, '8', 'rgba(60,105,70,0.55)', 0, 0, [20, 29], '#e8e8e8', 6));
series.push(tagSeries(td9Up, '9', '#4caf50', 0, 0, [21, 30], '#ffffff', 6));
series.push(tagSeries(td7Down, '7', 'rgba(120,50,55,0.6)', 0, 0, [20, 29], '#e8e8e8', 6));
series.push(tagSeries(td8Down, '8', 'rgba(120,50,55,0.6)', 0, 0, [20, 29], '#e8e8e8', 6));
series.push(tagSeries(td9Down, '9', '#f7232f', 0, 0, [21, 30], '#ffffff', 6));

// earnings and other event icons
var badgeDown = 'path://M2,0H30Q32,0 32,2V22L16,33L0,22V2Q0,0 2,0Z';
var badgeUp = 'path://M16,0L32,11V31Q32,33 30,33H2Q0,33 0,31V11Z';
series.push(iconSeries(earningsMiss, badgeDown, [30, 33], '#101114', '#d9303d', 'E'));
series.push(iconSeries(earningsBeat, badgeUp, [30, 34], '#101114', '#0f8a73', 'E'));
series.push(iconSeries(earningsNext, 'roundRect', [27, 28], '#101114', '#e600ff', '≈E'));
series.push(iconSeries([lastDay], 'circle', [33, 35], 'rgba(16,17,20,0.85)', '#a03fc0', ''));
series.push(iconSeries([lastDay], 'path://M6,0L0,9H4L2,16L9,6H5L7,0Z', [12, 21], '#a03fc0', 'none', ''));
series.push(iconSeries([269.2], 'path://M8,0Q9,7 16,8Q9,9 8,16Q7,9 0,8Q7,7 8,0Z', [18, 22], '#7c4dff', 'none', '', 104.5));

// CCI pane
series.push({
    type: 'line', name: 'cciAverage', xAxisIndex: 3, yAxisIndex: 2, data: cciAverage, symbol: 'none', smooth: 0.3, clip: false, z: 3, silent: true,
    lineStyle: { width: 3 }
});
series.push({
    type: 'line', xAxisIndex: 3, yAxisIndex: 2, data: cciLine, symbol: 'none', clip: false, z: 4, silent: true,
    lineStyle: { color: '#2962ff', width: 1.5 }
});

// momentum pane
series.push(bandSeries(bullBands, 'rgba(46,150,130,0.2)'));
series.push(bandSeries(bearBands, 'rgba(170,50,90,0.2)'));
series.push({
    type: 'bar', xAxisIndex: 4, yAxisIndex: 3, barWidth: 4, z: 2, silent: true,
    data: momentum.map(function (v, i) {
        var prev = i > 0 ? momentum[i - 1] : 0;
        var color = v >= 0 ? (v >= prev ? '#0ef70e' : '#35562f') : (v < prev ? '#ff3b30' : '#b71c1c');
        return { value: [i, v], itemStyle: { color: color } };
    })
});
series.push({
    type: 'line', xAxisIndex: 4, yAxisIndex: 3, data: [[0, keyLevel], [lastDay, keyLevel]], symbol: 'none', z: 3, silent: true,
    lineStyle: { color: '#4f5b6e', width: 2 }
});
series.push({
    type: 'line', xAxisIndex: 4, yAxisIndex: 3, symbol: 'none', z: 3, silent: true,
    data: joinSegments(keyLevelRising.map(function (r) { return [[r[0], keyLevel], [r[1], keyLevel]]; })),
    lineStyle: { color: '#87c6e8', width: 2 }
});
series.push({
    type: 'line', xAxisIndex: 4, yAxisIndex: 3, data: adxLine, symbol: 'none', smooth: 0.25, z: 4, silent: true,
    lineStyle: { color: '#4f5b6e', width: 3 }
});
series.push({
    type: 'line', xAxisIndex: 4, yAxisIndex: 3, data: adxRising, symbol: 'none', smooth: 0.25, z: 4, silent: true,
    lineStyle: { color: '#7fbfe0', width: 3 }
});
series.push(dotSeries(dotsDark, '#37474f'));
series.push(dotSeries(dotsOrange, '#ff3d00'));
series.push(dotSeries(dotsYellow, '#ffeb3b'));
series.push(triSeries(triDarkGreenUp, '#1b5e20', false));
series.push(triSeries(triGreenUp, '#4caf50', false));
series.push(triSeries(triRedDown, '#ff5252', true));
series.push(triSeries(triDarkRedDown, '#8b0000', true));
series.push(triSeries(triGreyUp, '#78909c', false));
series.push(triSeries(triGreyDown, '#90a4ae', true));
series.push(triSeries(triDarkGrey, '#37474f', true));
series.push(triSeries(triYellowUp, '#ffd54f', false));
series.push(triSeries(triYellowDown, '#ffd54f', true));
series.push(triSeries(triBrownUp, '#6d4c1f', false));
series.push({
    type: 'line', xAxisIndex: 4, yAxisIndex: 3, data: joinSegments(bearLines), symbol: 'none', z: 5, silent: true,
    lineStyle: { color: '#ff5252', width: 3 }
});
series.push({
    type: 'line', xAxisIndex: 4, yAxisIndex: 3, data: joinSegments(bullLines), symbol: 'none', z: 5, silent: true,
    lineStyle: { color: '#00e676', width: 3 }
});
series.push(tagSeries(bearTags, 'R', '#ff5252', 4, 3, [31, 29], '#ffffff', 6));
series.push(tagSeries(bullTags, 'R', '#00e676', 4, 3, [31, 29], '#0b3b26', 6));

var cciIndex = series.findIndex(function (s) { return s.name === 'cciAverage'; });

// graphic overlay: price tags, toolbars and pop-ups
function text(str, x, y, fill, size, align) {
    return {
        type: 'text', z: 101,
        style: {
            text: str, x: x, y: y, fill: fill, font: size + 'px ' + labelFont,
            textAlign: align || 'left', textVerticalAlign: 'middle', align: align || 'left', verticalAlign: 'middle'
        }
    };
}

function priceTag(label, cy, bg, fg, right) {
    return [
        { type: 'rect', z: 100, shape: { x: 1941, y: cy - 13.5, width: (right || 2030) - 1941, height: 27, r: [0, 3, 3, 0] }, style: { fill: bg } },
        text(label, 1955, cy, fg, 20)
    ];
}

function strokes(cx, cy, lines, width, color) {
    return lines.map(function (pts) {
        return { type: 'polyline', z: 101, x: cx, y: cy, shape: { points: pts }, style: { fill: null, stroke: color || '#d6d6d6', lineWidth: width || 1.8 } };
    });
}

function button(cx, cy, lines) {
    return [
        { type: 'rect', z: 100, shape: { x: cx - 18.5, y: cy - 19, width: 37, height: 38, r: 7 }, style: { fill: '#111214', stroke: '#3b3d42', lineWidth: 1.5 } }
    ].concat(strokes(cx, cy, lines));
}

var iconUp = [[[0,9],[0,-9]],[[-7,-2],[0,-9],[7,-2]]];
var iconDown = [[[0,-9],[0,9]],[[-7,2],[0,9],[7,2]]];
var iconMax = [[[-9,-3],[-9,-6],[-7,-8],[7,-8],[9,-6],[9,-3]],[[-9,3],[-9,6],[-7,8],[7,8],[9,6],[9,3]]];
var iconCollapse = [[[-6,-9],[0,-4],[6,-9]],[[-6,9],[0,4],[6,9]]];
var iconTrash = [[[-8,-6],[8,-6]],[[-3,-6],[-3,-8],[3,-8],[3,-6]],[[-6,-6],[-5,9],[5,9],[6,-6]]];
var iconMinus = [[[-8,0],[8,0]]];
var iconPlus = [[[-8,0],[8,0]],[[0,-8],[0,8]]];
var iconLeft = [[[4,-9],[-3,0],[4,9]]];
var iconRight = [[[-4,-9],[3,0],[-4,9]]];
var iconReset = [[[-6,-6],[-9,0],[-6,6],[0,9],[6,6],[9,0],[6,-6],[0,-9],[-2,-9]],[[2,-13],[-2,-9],[2,-5]]];

var overlay = [];
function add(list) { overlay = overlay.concat(list); }

// watermark sits under the series
overlay.push({ type: 'text', z: 0, style: { text: 'TSLA, 1D', x: 470, y: 627, fill: 'rgba(255,255,255,0.045)', font: '128px "Liberation Sans"', textAlign: 'center', textVerticalAlign: 'middle', align: 'center', verticalAlign: 'middle' } });
overlay.push({ type: 'text', z: 0, style: { text: 'Tesla, Inc.', x: 458, y: 731, fill: 'rgba(255,255,255,0.045)', font: '56px "Liberation Sans"', textAlign: 'center', textVerticalAlign: 'middle', align: 'center', verticalAlign: 'middle' } });

// pane separators, the top band and masks for clipped axis labels
add([
    { type: 'rect', z: 90, shape: { x: 0, y: 0, width: 2048, height: 5 }, style: { fill: '#2b2c2e' } },
    { type: 'rect', z: 90, shape: { x: 1941, y: 5, width: 107, height: 11 }, style: { fill: '#141824' } },
    { type: 'rect', z: 90, shape: { x: 1941, y: 1316, width: 107, height: 14 }, style: { fill: '#141824' } },
    { type: 'rect', z: 91, shape: { x: 0, y: 1315.5, width: 2048, height: 1.5 }, style: { fill: '#2a2e39' } },
    { type: 'rect', z: 91, shape: { x: 0, y: 1583.5, width: 2048, height: 1.5 }, style: { fill: '#2a2e39' } }
]);

// right hand price tags
add(priceTag('479.50', 178.3, '#f23645', '#ffffff'));
add([
    { type: 'rect', z: 100, shape: { x: 1941, y: 192.5, width: 107, height: 50, r: [0, 3, 3, 0] }, style: { fill: '#089981' } },
    text('476.49', 1955, 205.5, '#ffffff', 20),
    text('01:29:23', 1955, 228, '#9fdccf', 20)
]);
add(priceTag('462.00', 256, '#f23645', '#ffffff'));
add(priceTag('455.79', 284, '#ffeb3b', '#131722'));
add(priceTag('450.40', 311.5, '#4caf50', '#ffffff'));
add(priceTag('438.14', 339, '#ffffff', '#131722'));
add(priceTag('436.52', 366, '#b026ff', '#ffffff'));
add(priceTag('431.43', 394, '#f06292', '#ffffff'));
add(priceTag('400.09', 430.5, '#2962ff', '#ffffff'));
add(priceTag('393.60', 458.5, '#089981', '#ffffff'));
add(priceTag('371.96', 513.5, '#089981', '#ffffff'));
add(priceTag('347.00', 587, '#f23645', '#ffffff'));
add(priceTag('174.25', 1094.5, '#d9d9d9', '#131722'));
add(priceTag('85.19 M', 1219, '#26a69a', '#ffffff', 2036));
add(priceTag('92.00', 1396, '#ff0000', '#ffffff', 2017));
add(priceTag('50.42', 1424, '#2962ff', '#ffffff', 2017));
add(priceTag('43.91', 1675.5, '#00ff00', '#131722', 2017));
add(priceTag('−7.61', 1759.5, '#87c6e8', '#131722', 2017));
add(priceTag('−21.02', 1787, '#87c6e8', '#131722', 2030));

// toolbars
add(button(1868, 35, iconDown));
add(button(1913, 35, iconMax));
add([
    { type: 'rect', z: 100, shape: { x: 1946, y: 15, width: 110, height: 41, r: 7 }, style: { fill: '#111214', stroke: '#3b3d42', lineWidth: 1.5 } },
    text('USD', 1953, 36, '#d6d6d6', 20)
]);
add(strokes(2037, 35, [[[-4,-2],[0,2],[4,-2]]], 1.6));
add(button(1732, 1343, iconUp));
add(button(1778, 1343, iconDown));
add(button(1823, 1343, iconTrash));
add(button(1868, 1343, iconCollapse));
add(button(1914, 1343, iconMax));
add(button(1778, 1611, iconUp));
add(button(1823, 1611, iconTrash));
add(button(1868, 1611, iconCollapse));
add(button(1914, 1611, iconMax));

// bottom navigation
[[381, iconMinus], [432, iconPlus], [497, iconLeft], [549, iconRight], [613, iconReset]].forEach(function (b) {
    add([{ type: 'rect', z: 100, shape: { x: b[0] - 19, y: 1862, width: 38, height: 39, r: 7 }, style: { fill: '#2b2b2d' } }]);
    add(strokes(b[0], 1881, b[1], 2, '#e6e6e6'));
});

// symbol pop-up
add([
    { type: 'rect', z: 99, shape: { x: 1697, y: 768, width: 351, height: 75, r: [6, 0, 0, 6] }, style: { fill: '#404040' } },
    text('American Express Company', 1711, 789, '#f0f0f0', 20),
    text('NYSE', 1711, 825, '#f0f0f0', 20),
    { type: 'circle', z: 101, shape: { cx: 1779, cy: 825, r: 2 }, style: { fill: '#8a8a8a' } },
    text('Real-time', 1795, 825, '#f0f0f0', 20),
    { type: 'circle', z: 101, shape: { cx: 1902, cy: 825, r: 2 }, style: { fill: '#8a8a8a' } },
    text('Market open', 1918, 825, '#22ab94', 20)
]);

// DMI pop-up
add([
    { type: 'polygon', z: 95, shape: { points: [[1664, 1748], [1677, 1735], [1677, 1760]] }, style: { fill: '#604a1e' } },
    { type: 'rect', z: 95, shape: { x: 1677, y: 1682.5, width: 263, height: 130.5, r: [3, 0, 0, 3] }, style: { fill: '#604a1e' } },
    text('DMI reading: No Trend', 1691, 1703, '#e8dcb5', 19),
    text('» ADX(14.18) ▲ Growing |', 1691, 1725.5, '#e8dcb5', 19),
    text('» diPlus(32.92) >= diMinus', 1691, 1748, '#e8dcb5', 19),
    text('Timeframe: D, last di cross', 1697, 1794, '#e8dcb5', 19)
]);

function axisText(v) {
    return v < 0 ? '−' + Math.abs(v).toFixed(2) : v.toFixed(2);
}

function xAxis(gridIndex) {
    return { type: 'value', gridIndex: gridIndex, min: 0, max: xMax, show: false };
}

function yAxis(gridIndex, min, max, interval, formatter) {
    return {
        type: 'value', gridIndex: gridIndex, position: 'right', min: min, max: max, interval: interval,
        axisLine: { show: false }, axisTick: { show: false },
        axisLabel: { color: '#a5a8b1', fontSize: 19, fontFamily: labelFont, margin: 14, formatter: formatter || axisText },
        splitLine: { lineStyle: { color: gridColor, width: 1.5 } }
    };
}

var option = {
    animation: false,
    backgroundColor: '#141824',
    grid: [
        { left: 0, width: 1941, top: 19.6, height: 1293.2 },
        { left: 0, width: 1941, top: 5, height: 1310.5 },
        { left: 0, width: 1941, top: 1358, height: 179 },
        { left: 0, width: 1941, top: 1617, height: 262.5 }
    ],
    xAxis: [
        xAxis(0),
        { type: 'value', gridIndex: 0, min: 0, max: 1941, inverse: true, show: false },
        xAxis(1),
        xAxis(2),
        xAxis(3)
    ],
    yAxis: [
        yAxis(0, 100, 540, 20),
        { type: 'value', gridIndex: 1, min: 0, max: 1175, show: false },
        yAxis(2, -200, 200, 200),
        yAxis(3, -80, 80, 40, function (v) { return v === 0 ? '0.0000' : axisText(v); })
    ],
    visualMap: [{
        show: false, type: 'piecewise', seriesIndex: cciIndex, dimension: 0,
        pieces: [
            { lte: cciColorBreaks[0], color: '#0a7d12' },
            { gt: cciColorBreaks[0], lte: cciColorBreaks[1], color: '#ff0000' },
            { gt: cciColorBreaks[1], lte: cciColorBreaks[2], color: '#0a7d12' },
            { gt: cciColorBreaks[2], lte: cciColorBreaks[3], color: '#ff0000' },
            { gt: cciColorBreaks[3], lte: cciColorBreaks[4], color: '#0a7d12' },
            { gt: cciColorBreaks[4], color: '#ff0000' }
        ]
    }],
    series: series,
    graphic: { elements: overlay }
};

var chart = echarts.init(document.getElementById('chart'));
chart.setOption(option);
</script>
</body>
</html>
